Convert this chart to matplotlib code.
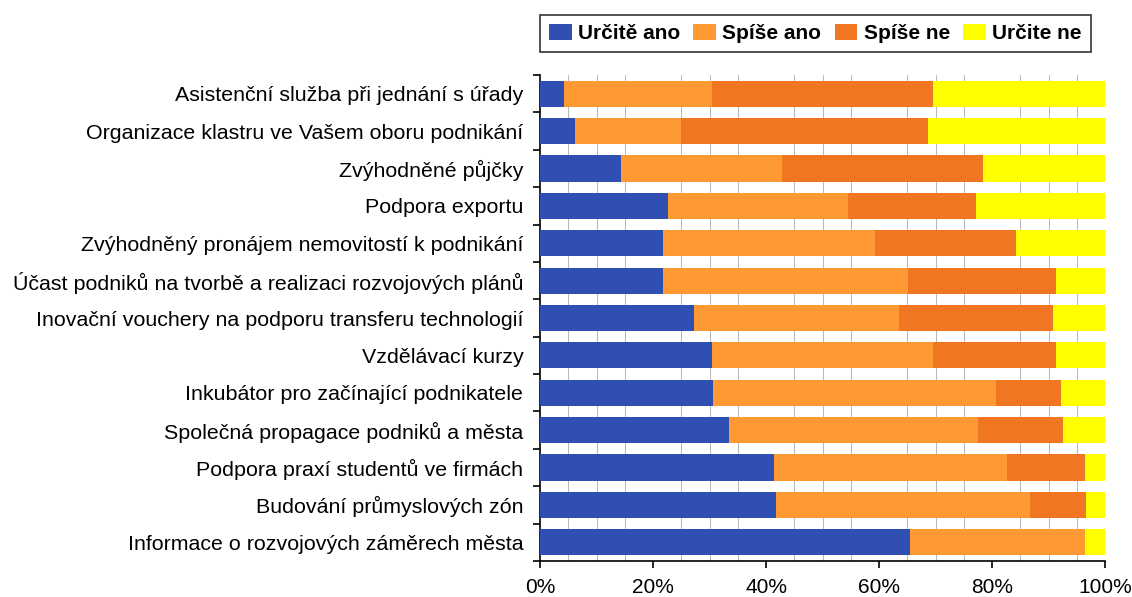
import matplotlib
matplotlib.use("Agg")
import matplotlib.pyplot as plt
import numpy as np

categories = [
    "Asistenční služba při jednání s úřady",
    "Organizace klastru ve Vašem oboru podnikání",
    "Zvýhodněné půjčky",
    "Podpora exportu",
    "Zvýhodněný pronájem nemovitostí k podnikání",
    "Účast podniků na tvorbě a realizaci rozvojových plánů",
    "Inovační vouchery na podporu transferu technologií",
    "Vzdělávací kurzy",
    "Inkubátor pro začínající podnikatele",
    "Společná propagace podniků a města",
    "Podpora praxí studentů ve firmách",
    "Budování průmyslových zón",
    "Informace o rozvojových záměrech města",
]
series_names = ["Určitě ano", "Spíše ano", "Spíše ne", "Určite ne"]
urcite_ano = [4.3, 6.2, 14.4, 22.6, 21.7, 21.7, 27.2, 30.5, 30.7, 33.4, 41.5, 41.7, 65.4]
spise_ano = [26.2, 18.8, 28.4, 32.0, 37.6, 43.4, 36.3, 39.0, 50.0, 44.2, 41.1, 45.1, 31.0]
spise_ne = [39.0, 43.6, 35.6, 22.6, 24.9, 26.2, 27.3, 21.8, 11.5, 14.9, 13.8, 9.8, 0.0]
urcite_ne = [30.5, 31.4, 21.6, 22.8, 15.8, 8.7, 9.2, 8.7, 7.8, 7.5, 3.6, 3.4, 3.6]
x_tick_labels = ["0%", "20%", "40%", "60%", "80%", "100%"]

colors = ["#2F4FB3", "#FF9933", "#F07621", "#FFFF00"]

plt.rcParams['font.family'] = ['Liberation Sans', 'DejaVu Sans']

fig = plt.figure(figsize=(11.32, 5.97), dpi=100)
ax = fig.add_axes([540/1132, 1 - 561/597, (1105-540)/1132, (561-75)/597])

data = np.array([urcite_ano, spise_ano, spise_ne, urcite_ne])
totals = data.sum(axis=0)
frac = data / totals
y = np.arange(len(categories))
left = np.zeros(len(categories))
handles = []
for i, name in enumerate(series_names):
    h = ax.barh(y, frac[i], left=left, height=0.7, color=colors[i],
                label=name, zorder=3, linewidth=0)
    handles.append(h)
    left += frac[i]

ax.set_xlim(0, 1)
ax.set_ylim(len(categories) - 0.5, -0.5)

# faint minor gridlines (5% steps, not at the 20% steps)
for v in np.arange(0.05, 1.0, 0.05):
    if abs(v * 5 - round(v * 5)) > 1e-6:
        ax.axvline(v, color="#9a9a9a", linewidth=0.5, zorder=1)

ax.set_yticks(y)
ax.set_yticklabels(categories, fontsize=15.4)
ax.set_yticks(np.arange(-0.5, len(categories), 1.0), minor=True)
ax.tick_params(axis="y", which="major", length=0, pad=12)
ax.tick_params(axis="y", which="minor", length=5, width=1.2, direction="out")

ax.set_xticks(np.linspace(0, 1, 6))
ax.set_xticklabels(x_tick_labels, fontsize=15)
ax.tick_params(axis="x", which="major", length=5, width=1.2, direction="out", pad=7)

for s in ["top", "right"]:
    ax.spines[s].set_visible(False)
for s in ["left", "bottom"]:
    ax.spines[s].set_linewidth(1.2)

leg = fig.legend(handles=handles, labels=series_names, ncol=4,
                 loc="upper left", bbox_to_anchor=(540/1132, 1 - 15/597),
                 frameon=True, fancybox=False, edgecolor="black",
                 prop={"weight": "bold", "size": 15},
                 handlelength=1.1, handleheight=0.8, handletextpad=0.3,
                 columnspacing=0.63, borderpad=0.42, borderaxespad=0)
leg.get_frame().set_linewidth(1.2)

fig.savefig("out.png", dpi=100)
